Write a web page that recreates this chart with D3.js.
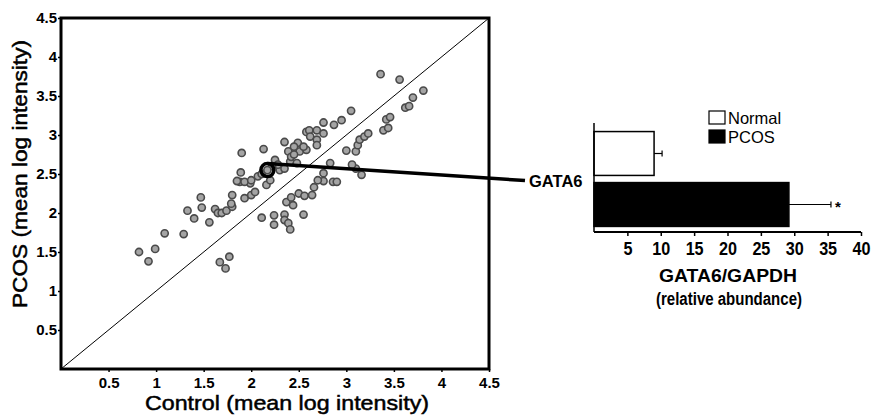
<!DOCTYPE html>
<html>
<head>
<meta charset="utf-8">
<script src="https://cdn.jsdelivr.net/npm/d3@7"></script>
<style>
  body { margin: 0; background: #fff; }
  text { font-family: "Liberation Sans", Arial, sans-serif; fill: #000; }
</style>
</head>
<body>
<script>
// Scatter: control vs PCOS mean log intensity, one point per gene
// points above the diagonal (higher in PCOS)
const upperPoints = [
  [0.82, 1.50], [0.92, 1.38], [0.99, 1.54], [1.09, 1.74], [1.29, 1.73], [1.33, 2.03],
  [1.40, 1.93], [1.47, 2.20], [1.48, 2.07], [1.56, 1.88], [1.62, 2.05], [1.65, 2.00],
  [1.69, 2.00], [1.74, 2.03], [1.80, 2.08], [1.80, 2.23], [1.79, 2.12], [1.93, 2.19],
  [2.00, 2.23], [2.04, 2.27], [1.99, 2.38], [1.88, 2.40], [2.16, 2.36], [2.20, 2.42],
  [1.85, 2.41], [1.93, 2.40], [2.00, 2.42], [2.07, 2.47], [1.89, 2.52], [1.90, 2.77],
  [2.13, 2.82], [2.25, 2.68], [2.30, 2.55], [2.35, 2.57], [2.41, 2.66], [2.48, 2.64],
  [2.35, 2.91], [2.39, 2.79], [2.42, 2.72], [2.49, 2.90], [2.51, 2.79], [2.58, 3.04],
  [2.58, 2.81], [2.61, 3.06], [2.69, 3.06], [2.62, 2.98], [2.69, 2.94], [2.69, 2.87],
  [2.55, 2.85], [2.76, 3.16], [2.76, 3.02], [2.87, 3.13], [2.95, 3.19], [3.05, 3.31],
  [3.36, 3.78], [2.11, 2.50], [2.45, 2.75], [2.28, 2.62], [2.22, 2.60], [2.45, 2.85]
];
// points below the diagonal (lower in PCOS)
const lowerPoints = [
  [1.67, 1.37], [1.73, 1.29], [1.77, 1.44],
  [2.11, 1.94], [2.24, 1.97], [2.24, 1.85], [2.35, 1.98], [2.35, 1.91], [2.39, 1.87],
  [2.41, 1.79], [2.55, 1.98], [2.37, 2.14], [2.44, 2.10], [2.42, 2.20], [2.50, 2.25],
  [2.56, 2.22], [2.64, 2.23], [2.66, 2.33], [2.76, 2.41], [2.86, 2.40], [2.70, 2.42],
  [2.76, 2.51], [2.83, 2.64], [2.90, 2.40], [3.00, 2.80], [3.10, 2.79], [3.12, 2.87],
  [3.14, 2.94], [3.19, 2.98], [3.23, 3.02], [3.10, 2.57], [3.16, 2.49], [3.39, 3.06],
  [3.44, 3.09], [3.42, 3.20], [3.46, 3.23], [3.62, 3.35], [3.66, 3.37], [3.70, 3.48],
  [3.81, 3.57], [3.56, 3.71], [3.06, 2.62]
];
const gata6Point = [2.17, 2.55];
const scatterTicks = [0.5, 1, 1.5, 2, 2.5, 3, 3.5, 4, 4.5];

// Bar inset: GATA6/GAPDH relative abundance
const barGroups = ['Normal', 'PCOS'];
const barValues = [9.0, 29.2];
const barErrors = [1.2, 6.3];
const barTicks = [5, 10, 15, 20, 25, 30, 35, 40];

const WIDTH_PX = 875;
const HEIGHT_PX = 416;

const PLOT_LEFT_PX = 61;
const PLOT_RIGHT_PX = 489;
const PLOT_TOP_PX = 18;
const PLOT_BOTTOM_PX = 369;

const BAR_LEFT_PX = 594;
const BAR_RIGHT_PX = 861;
const BAR_TOP_PX = 128;
const BAR_BOTTOM_PX = 230;
const BAR_AXIS_Y_PX = 232;

const svg = d3.select('body')
  .append('svg')
  .attr('width', WIDTH_PX)
  .attr('height', HEIGHT_PX);

const x = d3.scaleLinear().domain([0, 4.5]).range([PLOT_LEFT_PX, PLOT_RIGHT_PX]);
const y = d3.scaleLinear().domain([0, 4.5]).range([PLOT_BOTTOM_PX, PLOT_TOP_PX]);

// diagonal (equal expression)
svg.append('line')
  .attr('x1', x(0)).attr('y1', y(0))
  .attr('x2', x(4.5)).attr('y2', y(4.5))
  .attr('stroke', '#000')
  .attr('stroke-width', 1);

svg.append('g')
  .selectAll('circle')
  .data(upperPoints.concat(lowerPoints, [gata6Point]))
  .join('circle')
    .attr('cx', d => x(d[0]))
    .attr('cy', d => y(d[1]))
    .attr('r', 3.6)
    .attr('fill', '#a4a4a4')
    .attr('stroke', '#4a4a4a')
    .attr('stroke-width', 1.6);

// frame
svg.append('rect')
  .attr('x', PLOT_LEFT_PX)
  .attr('y', PLOT_TOP_PX)
  .attr('width', PLOT_RIGHT_PX - PLOT_LEFT_PX)
  .attr('height', PLOT_BOTTOM_PX - PLOT_TOP_PX)
  .attr('fill', 'none')
  .attr('stroke', '#000')
  .attr('stroke-width', 3);

function styleAxis(g, size) {
  g.select('.domain').remove();
  g.selectAll('.tick line').attr('stroke', '#000').attr('stroke-width', 1.5);
  g.selectAll('.tick text')
    .attr('fill', '#000')
    .style('font-family', '"Liberation Sans", Arial, sans-serif')
    .style('font-size', size + 'px')
    .style('font-weight', 'bold');
}

svg.append('g')
  .attr('transform', `translate(0,${PLOT_BOTTOM_PX})`)
  .call(d3.axisBottom(x).tickValues(scatterTicks).tickFormat(d3.format('')).tickSize(3).tickPadding(5))
  .call(g => styleAxis(g, 15));

svg.append('g')
  .attr('transform', `translate(${PLOT_LEFT_PX},0)`)
  .call(d3.axisLeft(y).tickValues(scatterTicks).tickFormat(d3.format('')).tickSize(3).tickPadding(1))
  .call(g => styleAxis(g, 15));

svg.append('text')
  .attr('x', (PLOT_LEFT_PX + PLOT_RIGHT_PX) / 2 + 12)
  .attr('y', 410)
  .attr('text-anchor', 'middle')
  .attr('textLength', 284)
  .attr('lengthAdjust', 'spacingAndGlyphs')
  .attr('stroke', '#000')
  .attr('stroke-width', 0.5)
  .style('font-size', '21px')
  .text('Control (mean log intensity)');

svg.append('text')
  .attr('transform', `translate(27,${174}) rotate(-90)`)
  .attr('text-anchor', 'middle')
  .attr('textLength', 268)
  .attr('lengthAdjust', 'spacingAndGlyphs')
  .attr('stroke', '#000')
  .attr('stroke-width', 0.5)
  .style('font-size', '21px')
  .text('PCOS (mean log intensity)');

// bar inset
const xb = d3.scaleLinear().domain([0, 40]).range([BAR_LEFT_PX, BAR_RIGHT_PX]);
const yb = d3.scaleBand()
  .domain(barGroups)
  .range([BAR_TOP_PX, BAR_BOTTOM_PX])
  .paddingInner(0.14)
  .paddingOuter(0.07);

// GATA6 highlight and pointer to the inset
const gx = x(gata6Point[0]);
const gy = y(gata6Point[1]);
const labelY = yb('PCOS') - 2;

svg.append('line')
  .attr('x1', gx).attr('y1', gy - 6.5)
  .attr('x2', 525).attr('y2', labelY)
  .attr('stroke', '#000')
  .attr('stroke-width', 3.5);

svg.append('circle')
  .attr('cx', gx)
  .attr('cy', gy)
  .attr('r', 6.5)
  .attr('fill', 'none')
  .attr('stroke', '#000')
  .attr('stroke-width', 3.5);

svg.append('text')
  .attr('x', 529)
  .attr('y', labelY + 6)
  .style('font-size', '16.5px')
  .style('font-weight', 'bold')
  .text('GATA6');

svg.append('g')
  .selectAll('rect')
  .data(barGroups)
  .join('rect')
    .attr('x', xb(0))
    .attr('y', d => yb(d))
    .attr('width', (d, i) => xb(barValues[i]) - xb(0))
    .attr('height', yb.bandwidth())
    .attr('fill', d => d === 'PCOS' ? '#000' : '#fff')
    .attr('stroke', '#000')
    .attr('stroke-width', 1.5);

const errG = svg.append('g')
  .selectAll('g')
  .data(barGroups)
  .join('g');

errG.append('line')
  .attr('x1', (d, i) => xb(barValues[i]))
  .attr('x2', (d, i) => xb(barValues[i] + barErrors[i]))
  .attr('y1', d => yb(d) + yb.bandwidth() / 2)
  .attr('y2', d => yb(d) + yb.bandwidth() / 2)
  .attr('stroke', '#000')
  .attr('stroke-width', 1.2);

errG.append('line')
  .attr('x1', (d, i) => xb(barValues[i] + barErrors[i]))
  .attr('x2', (d, i) => xb(barValues[i] + barErrors[i]))
  .attr('y1', d => yb(d) + yb.bandwidth() / 2 - 3)
  .attr('y2', d => yb(d) + yb.bandwidth() / 2 + 3)
  .attr('stroke', '#000')
  .attr('stroke-width', 1.2);

svg.append('text')
  .attr('x', xb(barValues[1] + barErrors[1]) + 4)
  .attr('y', yb('PCOS') + yb.bandwidth() / 2 + 7)
  .style('font-size', '15px')
  .style('font-weight', 'bold')
  .text('*');

svg.append('line')
  .attr('x1', BAR_LEFT_PX).attr('x2', BAR_LEFT_PX)
  .attr('y1', 123).attr('y2', BAR_AXIS_Y_PX)
  .attr('stroke', '#000')
  .attr('stroke-width', 1.5);

svg.append('line')
  .attr('x1', BAR_LEFT_PX).attr('x2', BAR_RIGHT_PX)
  .attr('y1', BAR_AXIS_Y_PX).attr('y2', BAR_AXIS_Y_PX)
  .attr('stroke', '#000')
  .attr('stroke-width', 2);

svg.append('g')
  .attr('transform', `translate(0,${BAR_AXIS_Y_PX})`)
  .call(d3.axisBottom(xb).tickValues(barTicks).tickSize(4).tickPadding(7))
  .call(g => styleAxis(g, 17.5))
  .call(g => g.selectAll('.tick text')
    .attr('textLength', d => d < 10 ? 9 : 18)
    .attr('lengthAdjust', 'spacingAndGlyphs'));

svg.append('text')
  .attr('x', 728)
  .attr('y', 282)
  .attr('text-anchor', 'middle')
  .attr('textLength', 138)
  .attr('lengthAdjust', 'spacingAndGlyphs')
  .style('font-size', '19px')
  .style('font-weight', 'bold')
  .text('GATA6/GAPDH');

svg.append('text')
  .attr('x', 729)
  .attr('y', 305)
  .attr('text-anchor', 'middle')
  .attr('textLength', 146)
  .attr('lengthAdjust', 'spacingAndGlyphs')
  .style('font-size', '18px')
  .style('font-weight', 'bold')
  .text('(relative abundance)');

// legend
const legend = svg.append('g')
  .selectAll('g')
  .data(barGroups)
  .join('g')
    .attr('transform', (d, i) => `translate(709,${111 + i * 19})`);

legend.append('rect')
  .attr('width', 16)
  .attr('height', 13)
  .attr('fill', d => d === 'PCOS' ? '#000' : '#fff')
  .attr('stroke', '#000')
  .attr('stroke-width', 1.2);

legend.append('text')
  .attr('x', 19)
  .attr('y', 13)
  .style('font-size', '16.5px')
  .text(d => d);
</script>
</body>
</html>
